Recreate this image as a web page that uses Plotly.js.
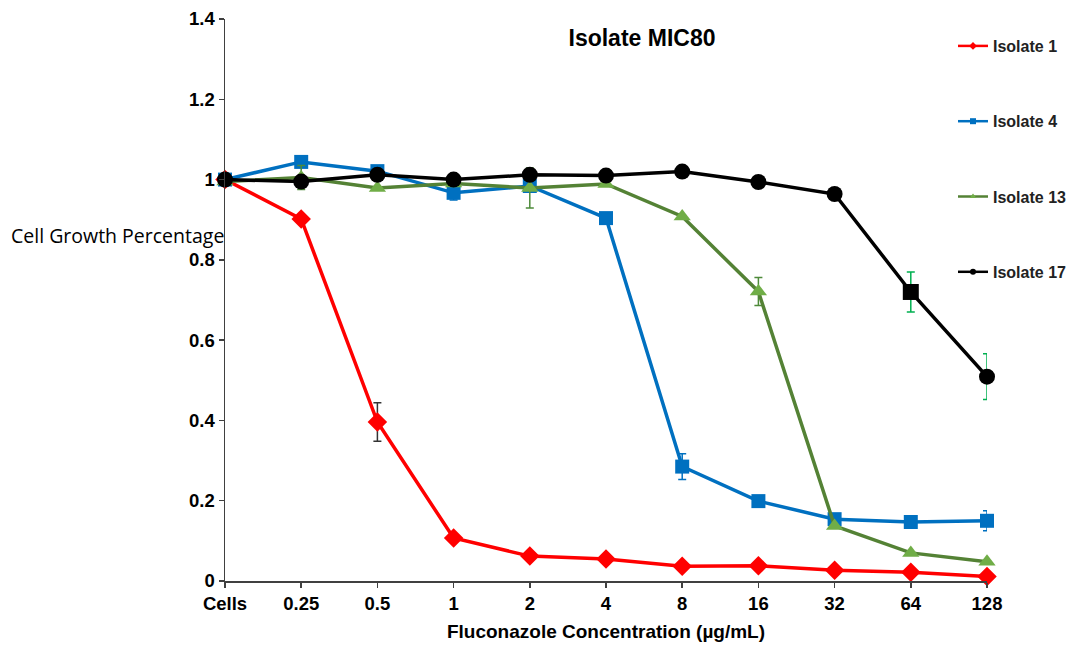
<!DOCTYPE html>
<html>
<head>
<meta charset="utf-8">
<script src="https://cdn.plot.ly/plotly-3.0.1.min.js"></script>
<style>html,body{margin:0;padding:0;background:#fff;}#chart{width:1072px;height:647px;}</style>
</head>
<body>
<div id="chart"></div>
<script>
const categories = ["Cells", "0.25", "0.5", "1", "2", "4", "8", "16", "32", "64", "128"];
const seriesNames = ["Isolate 1", "Isolate 4", "Isolate 13", "Isolate 17"];

const isolate1 = [1.0, 0.902, 0.396, 0.107, 0.062, 0.055, 0.037, 0.038, 0.027, 0.022, 0.011];
const isolate1Err = [0, 0, 0.048, 0, 0.01, 0, 0, 0, 0, 0, 0];

const isolate4 = [1.0, 1.044, 1.021, 0.967, 0.984, 0.904, 0.285, 0.199, 0.154, 0.147, 0.150];
const isolate4Err = [0, 0, 0, 0.018, 0, 0, 0.032, 0, 0, 0, 0.025];

const isolate13 = [0.995, 1.005, 0.979, 0.99, 0.979, 0.989, 0.908, 0.721, 0.137, 0.07, 0.048];
const isolate13Err = [0, 0.03, 0, 0, 0.05, 0, 0, 0.035, 0, 0, 0];

const isolate17 = [1.0, 0.995, 1.012, 1.0, 1.012, 1.01, 1.02, 0.994, 0.964, 0.72, 0.509];
const isolate17Err = [0, 0, 0, 0, 0, 0, 0, 0, 0, 0.05, 0.057];

const yTicks = [0, 0.2, 0.4, 0.6, 0.8, 1, 1.2, 1.4];
const yTickText = ["0", "0.2", "0.4", "0.6", "0.8", "1", "1.2", "1.4"];

function series(name, y, err, lineColor, markerColor, symbol, size, errColor) {
  return {
    type: 'scatter', mode: 'lines+markers', name: name, x: categories, y: y,
    showlegend: false, cliponaxis: false,
    line: {color: lineColor, width: 3.5},
    marker: {color: markerColor, symbol: symbol, size: size},
    error_y: {type: 'data', array: err, visible: true, color: errColor, thickness: 1.5, width: 4}
  };
}
function legendEntry(name, lineColor, markerColor, symbol, group) {
  return {
    type: 'scatter', mode: 'lines+markers', name: name, x: [null], y: [null],
    legendgroup: group, showlegend: true,
    line: {color: lineColor, width: 2.5},
    marker: {color: markerColor, symbol: symbol, size: 6}
  };
}

const black17Symbols = categories.map((c, i) => i === 9 ? 'square' : 'circle');

const traces = [
  series(seriesNames[0], isolate1, isolate1Err, '#FF0000', '#FF0000', 'diamond', 15, '#333333'),
  series(seriesNames[1], isolate4, isolate4Err, '#0070C0', '#0070C0', 'square', 14, '#0070C0'),
  series(seriesNames[2], isolate13, isolate13Err, '#548235', '#70AD47', 'triangle-up', 15, '#4E8A3A'),
  series(seriesNames[3], isolate17, isolate17Err, '#000000', '#000000', black17Symbols, 16, '#00B050'),
  legendEntry(seriesNames[0], '#FF0000', '#FF0000', 'diamond', 'g1'),
  legendEntry(seriesNames[1], '#0070C0', '#0070C0', 'square', 'g2'),
  legendEntry(seriesNames[2], '#548235', '#70AD47', 'triangle-up', 'g3'),
  legendEntry(seriesNames[3], '#000000', '#000000', 'circle', 'g4')
];

const tickFont = {family: 'Liberation Sans, Arial, sans-serif', size: 18.5, color: '#000', weight: 'bold'};

const layout = {
  width: 1072, height: 647,
  paper_bgcolor: '#ffffff', plot_bgcolor: '#ffffff',
  margin: {l: 225, r: 85, t: 19, b: 66, autoexpand: false},
  showlegend: true,
  title: {
    text: 'Isolate MIC80',
    font: {family: 'Liberation Sans, Arial, sans-serif', size: 23, color: '#000', weight: 'bold'},
    x: 642 / 1072, xanchor: 'center', xref: 'container',
    y: 1 - 38 / 647, yanchor: 'middle', yref: 'container'
  },
  xaxis: {
    type: 'category', range: [0, 10],
    showline: true, linecolor: '#404040', linewidth: 1.5,
    ticks: 'outside', ticklen: 5, tickcolor: '#404040', tickwidth: 1.5,
    showgrid: false, zeroline: false,
    tickfont: tickFont,
    title: {text: 'Fluconazole Concentration (µg/mL)', font: {family: 'Liberation Sans, Arial, sans-serif', size: 19, color: '#000', weight: 'bold'}, standoff: 12}
  },
  yaxis: {
    range: [0, 1.4], tickvals: yTicks, ticktext: yTickText,
    showline: true, linecolor: '#404040', linewidth: 1.5,
    ticks: 'outside', ticklen: 5, tickcolor: '#404040', tickwidth: 1.5,
    showgrid: false, zeroline: false,
    tickfont: tickFont
  },
  legend: {
    xref: 'container', yref: 'container',
    x: 953 / 1072, y: 1 - 29 / 647, xanchor: 'left', yanchor: 'top',
    font: {family: 'Liberation Sans, Arial, sans-serif', size: 16, color: '#222', weight: 'bold'},
    tracegroupgap: 51.5, bgcolor: 'rgba(0,0,0,0)', borderwidth: 0
  },
  annotations: [{
    text: 'Cell Growth Percentage', xref: 'paper', yref: 'paper',
    x: (10 - 225) / 762, y: (581 - 235) / 562, xanchor: 'left', yanchor: 'middle',
    showarrow: false, borderpad: 0,
    font: {family: 'Open Sans, Noto Sans, sans-serif', size: 19.5, color: '#000'}
  }]
};

Plotly.newPlot('chart', traces, layout, {displayModeBar: false, staticPlot: true});
</script>
</body>
</html>
